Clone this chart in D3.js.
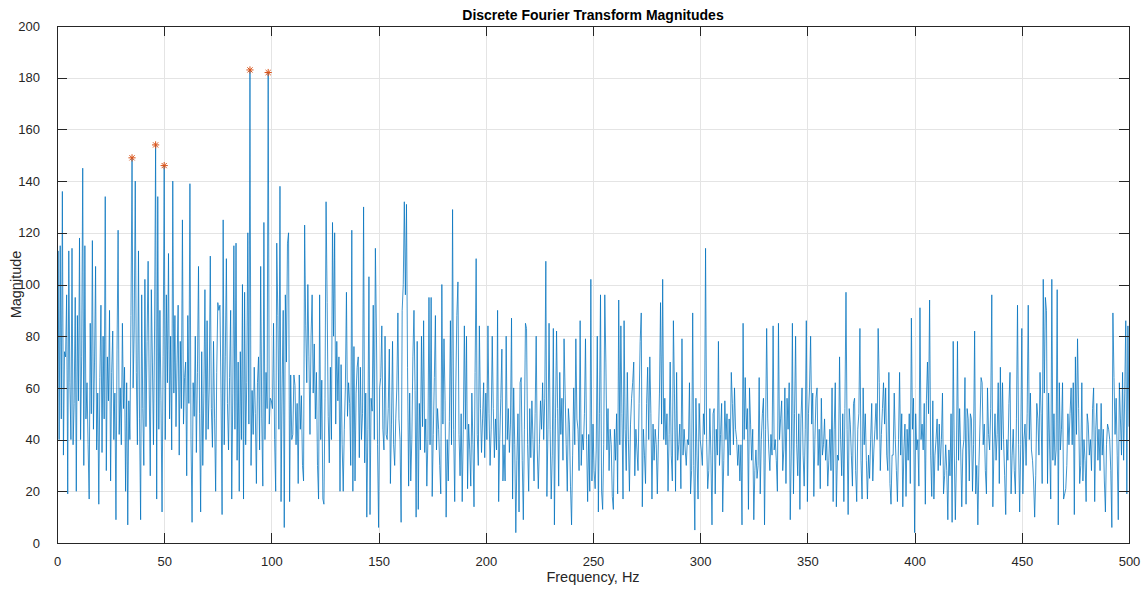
<!DOCTYPE html>
<html>
<head>
<meta charset="utf-8">
<script src="https://cdn.jsdelivr.net/npm/d3@7"></script>
<style>
  html, body { margin: 0; padding: 0; background: #ffffff; }
  svg { display: block; font-family: "Liberation Sans", Arial, Helvetica, sans-serif; }
</style>
</head>
<body>
<svg id="chart" width="1148" height="589"></svg>
<script>
// Single-sided DFT magnitude spectrum, 0.5 Hz bins from 0 to 500 Hz
const freqStep = 0.5;
const magnitudes = [
  // 0 - 9.5 Hz
  2,113,40,115,48,136,34,74,72,96,19,113,62,40,114,38,54,95,20,88,
  // 10 - 19.5 Hz
  55,118,40,72,145,30,115,48,62,38,17,85,50,117,44,70,107,36,58,15,
  // 20 - 29.5 Hz
  64,92,35,80,48,134,28,72,55,90,24,66,82,40,58,9,75,121,42,60,
  // 30 - 39.5 Hz
  38,85,52,68,20,62,7,55,40,88,149,60,82,140,66,38,113,48,9,96,
  // 40 - 49.5 Hz
  52,30,102,45,78,109,60,26,98,70,38,82,154,17,134,44,90,55,12,72,
  // 50 - 59.5 Hz
  146,40,96,62,112,48,80,36,140,58,88,45,70,92,34,78,52,125,46,64,
  // 60 - 69.5 Hz
  70,26,88,54,139,40,8,62,49,80,35,66,107,50,12,74,30,58,98,40,
  // 70 - 79.5 Hz
  86,44,60,111,52,37,78,48,20,66,93,90,92,58,11,125,38,72,110,54,
  // 80 - 89.5 Hz
  36,64,90,17,58,115,44,116,32,70,20,74,40,100,17,97,38,62,120,46,
  // 90 - 99.5 Hz
  183,30,59,42,68,50,23,62,72,36,107,48,22,124,40,66,52,182,46,56,
  // 100 - 109.5 Hz
  55,52,85,40,20,116,88,44,138,16,60,90,6,96,70,116,120,16,65,40,
  // 110 - 119.5 Hz
  42,65,61,38,54,23,65,44,57,30,24,123,84,62,100,72,42,80,96,58,
  // 120 - 129.5 Hz
  77,48,66,30,17,96,40,63,17,15,56,132,93,49,31,68,40,124,80,120,
  // 130 - 139.5 Hz
  46,78,55,72,20,69,38,20,44,60,97,49,62,54,30,121,20,76,24,58,
  // 140 - 149.5 Hz
  68,72,33,68,40,50,130,31,58,10,44,103,11,56,51,92,40,114,80,38,
  // 150 - 159.5 Hz
  6,60,64,84,44,36,80,42,40,52,75,23,46,78,38,30,48,60,89,48,
  // 160 - 169.5 Hz
  40,8,90,100,132,96,131,68,22,58,24,40,72,90,59,10,78,13,54,36,
  // 170 - 179.5 Hz
  80,45,86,35,48,22,40,95,38,95,18,42,64,88,36,52,44,30,19,100,
  // 180 - 189.5 Hz
  46,79,55,10,40,24,47,86,38,129,44,16,60,88,101,42,26,50,16,44,
  // 190 - 199.5 Hz
  84,44,80,21,46,36,22,58,38,14,66,110,42,30,84,52,35,48,62,33,
  // 200 - 209.5 Hz
  58,40,84,50,30,44,80,52,33,48,36,90,16,40,56,75,24,38,24,80,
  // 210 - 219.5 Hz
  40,52,35,46,87,17,60,38,4,32,50,12,62,64,32,9,44,85,83,38,
  // 220 - 229.5 Hz
  20,52,33,55,40,24,50,80,36,21,38,55,44,62,40,56,109,18,44,85,
  // 230 - 239.5 Hz
  44,17,34,83,7,48,82,52,22,66,42,56,32,79,58,38,20,52,46,22,
  // 240 - 249.5 Hz
  7,34,60,38,79,48,44,28,86,30,42,36,50,79,40,16,42,20,102,24,
  // 250 - 259.5 Hz
  46,28,21,36,80,12,50,96,20,13,38,96,70,36,52,28,44,38,18,13,
  // 260 - 269.5 Hz
  44,32,50,19,94,38,84,50,17,86,44,28,66,40,20,46,56,62,70,26,
  // 270 - 279.5 Hz
  44,36,28,54,78,89,14,44,34,23,54,68,40,72,50,17,46,32,44,38,
  // 280 - 289.5 Hz
  19,40,58,93,46,102,40,56,38,50,20,42,70,34,24,86,58,20,66,32,
  // 290 - 299.5 Hz
  38,46,21,79,34,44,36,30,40,38,62,19,28,89,30,5,56,34,17,54,
  // 300 - 309.5 Hz
  40,36,30,50,42,114,40,21,28,52,34,7,50,52,19,44,34,78,30,42,
  // 310 - 319.5 Hz
  54,12,32,55,40,50,26,48,34,66,54,38,60,44,40,30,38,24,38,7,
  // 320 - 329.5 Hz
  85,40,64,44,52,13,60,46,32,44,9,28,36,25,30,64,19,40,50,56,
  // 330 - 339.5 Hz
  7,44,83,48,36,28,42,34,84,36,40,32,20,85,40,48,55,28,36,60,
  // 340 - 349.5 Hz
  23,56,44,62,9,36,85,19,50,80,38,26,50,13,48,60,34,22,44,86,
  // 350 - 359.5 Hz
  16,50,60,80,46,58,18,40,56,60,30,44,21,56,34,38,48,32,40,22,
  // 360 - 369.5 Hz
  32,44,28,60,16,44,62,14,34,32,72,40,26,50,16,52,97,44,11,52,
  // 370 - 379.5 Hz
  46,34,22,54,56,28,16,44,50,83,32,17,60,38,50,32,17,34,25,40,
  // 380 - 389.5 Hz
  54,24,36,44,54,40,83,62,28,42,52,62,46,60,34,28,66,23,15,34,
  // 390 - 399.5 Hz
  34,58,40,28,16,40,66,34,50,14,36,46,18,44,32,50,23,87,44,56,
  // 400 - 409.5 Hz
  4,50,36,40,22,91,40,46,36,54,15,55,70,50,94,34,18,55,17,34,
  // 410 - 419.5 Hz
  40,48,28,46,30,40,58,19,26,38,28,9,36,26,50,8,78,36,9,32,
  // 420 - 429.5 Hz
  78,32,52,36,14,36,40,64,15,52,48,24,50,48,20,38,82,19,30,7,
  // 430 - 439.5 Hz
  30,46,64,62,38,46,28,19,60,42,36,52,96,14,36,50,32,42,62,23,
  // 440 - 449.5 Hz
  68,36,62,40,26,11,40,32,54,66,19,34,44,28,19,48,92,38,12,38,
  // 450 - 459.5 Hz
  83,19,40,46,30,50,92,40,58,36,32,24,10,26,54,48,34,66,50,23,
  // 460 - 469.5 Hz
  102,58,95,90,23,58,36,17,102,32,50,30,36,98,7,62,36,44,62,17,
  // 470 - 479.5 Hz
  19,21,30,50,38,50,60,38,62,11,72,42,79,52,23,30,62,24,40,32,
  // 480 - 489.5 Hz
  16,50,46,34,40,28,52,60,16,44,54,32,44,28,54,34,44,24,12,38,
  // 490 - 500 Hz
  46,44,40,28,6,89,64,42,56,34,9,62,48,34,66,32,58,86,19,84,
  45
];

// Frequencies flagged as the strongest spectral peaks
const peakFreqs = [35, 46, 50, 90, 98.5];

const xTicks = [0, 50, 100, 150, 200, 250, 300, 350, 400, 450, 500];
const yTicks = [0, 20, 40, 60, 80, 100, 120, 140, 160, 180, 200];

const titleText = "Discrete Fourier Transform Magnitudes";
const xLabelText = "Frequency, Hz";
const yLabelText = "Magnitude";

const spectrum = magnitudes.map((m, i) => ({ f: i * freqStep, m }));
const peaks = peakFreqs.map(f => ({ f, m: magnitudes[Math.round(f / freqStep)] }));

const W = 1148, H = 589;
const margin = { left: 57, right: 19, top: 26, bottom: 46 };
const plotW = W - margin.left - margin.right;
const plotH = H - margin.top - margin.bottom;

const svg = d3.select("#chart");
svg.append("rect").attr("width", W).attr("height", H).attr("fill", "#ffffff");

const x = d3.scaleLinear().domain([0, 500]).range([0, plotW]);
const y = d3.scaleLinear().domain([0, 200]).range([plotH, 0]);

const g = svg.append("g").attr("transform", `translate(${margin.left},${margin.top})`);

// Grid
const grid = g.append("g").attr("shape-rendering", "crispEdges");
grid.selectAll("line.gx").data(xTicks.slice(1, -1)).join("line")
  .attr("x1", d => Math.round(x(d)) + 0.5).attr("x2", d => Math.round(x(d)) + 0.5)
  .attr("y1", 0).attr("y2", plotH)
  .attr("stroke", "#e4e4e4").attr("stroke-width", 1);
grid.selectAll("line.gy").data(yTicks.slice(1, -1)).join("line")
  .attr("y1", d => Math.round(y(d)) + 0.5).attr("y2", d => Math.round(y(d)) + 0.5)
  .attr("x1", 0).attr("x2", plotW)
  .attr("stroke", "#e4e4e4").attr("stroke-width", 1);

// Spectrum trace
svg.append("clipPath").attr("id", "plotclip")
  .append("rect").attr("x", 0).attr("y", 0).attr("width", plotW).attr("height", plotH);

g.append("path")
  .datum(spectrum)
  .attr("clip-path", "url(#plotclip)")
  .attr("fill", "none")
  .attr("stroke", "#0072BD")
  .attr("stroke-width", 0.75)
  .attr("stroke-linejoin", "miter")
  .attr("d", d3.line().x(d => x(d.f)).y(d => y(d.m)));

// Peak markers (asterisks)
const ms = 3.6;
const mk = g.append("g").selectAll("g").data(peaks).join("g")
  .attr("transform", d => `translate(${x(d.f)},${y(d.m)})`)
  .attr("stroke", "#D95319").attr("stroke-width", 1);
mk.append("line").attr("x1", -ms).attr("x2", ms).attr("y1", 0).attr("y2", 0);
mk.append("line").attr("x1", 0).attr("x2", 0).attr("y1", -ms).attr("y2", ms);
mk.append("line").attr("x1", -ms * 0.72).attr("x2", ms * 0.72).attr("y1", -ms * 0.72).attr("y2", ms * 0.72);
mk.append("line").attr("x1", -ms * 0.72).attr("x2", ms * 0.72).attr("y1", ms * 0.72).attr("y2", -ms * 0.72);

// Axes box and inward ticks on all four sides
const axisColor = "#262626";
const tickLen = 10;
const axisLayer = g.append("g").attr("shape-rendering", "crispEdges");

const bottomAxis = d3.axisBottom(x).tickValues(xTicks).tickSize(-tickLen).tickPadding(14).tickFormat(d3.format("d"));
const topAxis = d3.axisTop(x).tickValues(xTicks).tickSize(-tickLen).tickFormat("");
const leftAxis = d3.axisLeft(y).tickValues(yTicks).tickSize(-tickLen).tickPadding(17).tickFormat(d3.format("d"));
const rightAxis = d3.axisRight(y).tickValues(yTicks).tickSize(-tickLen).tickFormat("");

const styleAxis = sel => {
  sel.select(".domain").attr("stroke", axisColor).attr("stroke-width", 1);
  sel.selectAll(".tick line").attr("stroke", axisColor).attr("stroke-width", 1);
  sel.selectAll(".tick text").attr("fill", axisColor).attr("font-size", 13)
    .attr("font-family", "'Liberation Sans', Arial, Helvetica, sans-serif");
};

axisLayer.append("g").attr("transform", `translate(0,${plotH})`).call(bottomAxis).call(styleAxis);
axisLayer.append("g").call(topAxis).call(styleAxis);
axisLayer.append("g").call(leftAxis).call(styleAxis);
axisLayer.append("g").attr("transform", `translate(${plotW},0)`).call(rightAxis).call(styleAxis);
axisLayer.selectAll(".domain").attr("d", null);
axisLayer.append("rect")
  .attr("x", 0.5).attr("y", 0.5).attr("width", plotW).attr("height", plotH)
  .attr("fill", "none").attr("stroke", axisColor).attr("stroke-width", 1);

// Title and axis labels
svg.append("text")
  .attr("x", margin.left + plotW / 2).attr("y", 20)
  .attr("text-anchor", "middle")
  .attr("font-size", 14).attr("font-weight", "bold").attr("fill", "#000000")
  .text(titleText);

svg.append("text")
  .attr("x", margin.left + plotW / 2).attr("y", 582)
  .attr("text-anchor", "middle")
  .attr("font-size", 14.5).attr("fill", axisColor)
  .text(xLabelText);

svg.append("text")
  .attr("transform", `translate(21,${margin.top + plotH / 2}) rotate(-90)`)
  .attr("text-anchor", "middle")
  .attr("font-size", 14.5).attr("fill", axisColor)
  .text(yLabelText);
</script>
</body>
</html>
